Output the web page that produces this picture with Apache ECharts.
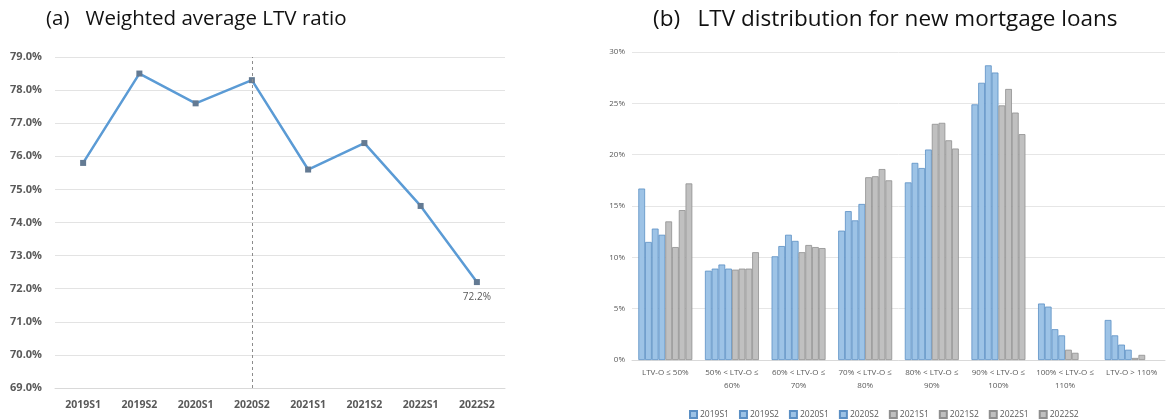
<!DOCTYPE html>
<html>
<head>
<meta charset="utf-8">
<script src="https://cdn.jsdelivr.net/npm/echarts@6/dist/echarts.min.js"></script>
<style>
  html, body { margin: 0; padding: 0; background: #ffffff; }
  #chart { width: 1169px; height: 419px; }
</style>
</head>
<body>
<div id="chart"></div>
<script>
// Panel (a): weighted average LTV ratio by half-year (%)
const periods = ['2019S1', '2019S2', '2020S1', '2020S2', '2021S1', '2021S2', '2022S1', '2022S2'];
const avgLtv = [75.8, 78.5, 77.6, 78.3, 75.6, 76.4, 74.5, 72.2];

// Panel (b): LTV distribution for new mortgage loans (% of loans per bucket)
// null = no loans reported in that bucket for the period
const ltvBuckets = [
  'LTV-O ≤ 50%',
  '50% < LTV-O ≤\n60%',
  '60% < LTV-O ≤\n70%',
  '70% < LTV-O ≤\n80%',
  '80% < LTV-O ≤\n90%',
  '90% < LTV-O ≤\n100%',
  '100% < LTV-O ≤\n110%',
  'LTV-O > 110%'
];
const dist2019S1 = [16.7, 8.7, 10.1, 12.6, 17.3, 24.9, 5.5, 3.9];
const dist2019S2 = [11.5, 8.9, 11.1, 14.5, 19.2, 27.0, 5.2, 2.4];
const dist2020S1 = [12.8, 9.3, 12.2, 13.6, 18.7, 28.7, 3.0, 1.5];
const dist2020S2 = [12.2, 8.9, 11.6, 15.2, 20.5, 28.0, 2.4, 1.0];
const dist2021S1 = [13.5, 8.8, 10.5, 17.8, 23.0, 24.8, 1.0, 0.2];
const dist2021S2 = [11.0, 8.9, 11.2, 17.9, 23.1, 26.4, 0.7, 0.5];
const dist2022S1 = [14.6, 8.9, 11.0, 18.6, 21.4, 24.1, null, null];
const dist2022S2 = [17.2, 10.5, 10.9, 17.5, 20.6, 22.0, null, null];

const distSeries = [dist2019S1, dist2019S2, dist2020S1, dist2020S2,
                    dist2021S1, dist2021S2, dist2022S1, dist2022S2];

const blueFill = '#9dc3e6', blueEdge = '#5b8fc4';
const grayFill = '#c0c0c0', grayEdge = '#8f8f8f';
const textColor = '#595959';
const baseFont = 'Open Sans, Noto Sans, sans-serif';

const chart = echarts.init(document.getElementById('chart'), null, { renderer: 'canvas' });

const barSeries = distSeries.map((vals, i) => {
  const isBlue = i < 4;
  return {
    name: periods[i],
    type: 'bar',
    xAxisIndex: 1,
    yAxisIndex: 1,
    data: vals,
    barGap: '0%',
    barCategoryGap: '19%',
    itemStyle: {
      color: isBlue ? blueFill : grayFill,
      borderColor: isBlue ? blueEdge : grayEdge,
      borderWidth: 0.8
    },
    emphasis: { disabled: true }
  };
});

chart.setOption({
  animation: false,
  textStyle: { fontFamily: baseFont },
  title: [
    {
      text: '(a)   Weighted average LTV ratio',
      left: 41, top: 4,
      textStyle: { fontSize: 20.5, fontWeight: 'normal', color: '#111', fontFamily: baseFont }
    },
    {
      text: '(b)   LTV distribution for new mortgage loans',
      left: 648, top: 3,
      textStyle: { fontSize: 22.5, fontWeight: 'normal', color: '#111', fontFamily: baseFont }
    }
  ],
  legend: {
    data: periods,
    left: 684, top: 405,
    itemWidth: 7, itemHeight: 7, itemGap: 10,
    icon: 'rect',
    textStyle: { fontSize: 8.5, color: textColor, padding: [0, 0, 0, -2] }
  },
  grid: [
    { left: 55, right: 664, top: 57, bottom: 31 },
    { left: 632, right: 4, top: 52, bottom: 59 }
  ],
  xAxis: [
    {
      type: 'category', gridIndex: 0, data: periods, boundaryGap: true,
      axisLine: { lineStyle: { color: '#d9d9d9' } },
      axisTick: { show: false },
      axisLabel: { color: textColor, fontSize: 10.5, fontWeight: 'bold', margin: 12 }
    },
    {
      type: 'category', gridIndex: 1, data: ltvBuckets, boundaryGap: true,
      axisLine: { lineStyle: { color: '#d9d9d9' } },
      axisTick: { show: false },
      axisLabel: { color: textColor, fontSize: 8, lineHeight: 13, margin: 6, interval: 0 }
    }
  ],
  yAxis: [
    {
      type: 'value', gridIndex: 0, min: 69, max: 79, interval: 1,
      axisLine: { show: false }, axisTick: { show: false },
      splitLine: { lineStyle: { color: '#e3e3e3' } },
      axisLabel: {
        color: textColor, fontSize: 11, fontWeight: 'bold', margin: 13,
        formatter: v => v.toFixed(1) + '%'
      }
    },
    {
      type: 'value', gridIndex: 1, min: 0, max: 30, interval: 5,
      axisLine: { show: false }, axisTick: { show: false },
      splitLine: { lineStyle: { color: '#e6e6e6' } },
      axisLabel: { color: textColor, fontSize: 8, margin: 7, formatter: '{value}%' }
    }
  ],
  series: [
    {
      name: 'Weighted average LTV',
      type: 'line',
      xAxisIndex: 0, yAxisIndex: 0,
      data: avgLtv.map((v, i) => i === avgLtv.length - 1
        ? { value: v, label: { show: true } }
        : v),
      symbol: 'rect', symbolSize: 6,
      lineStyle: { color: '#5b9bd5', width: 2.5 },
      itemStyle: { color: '#637a93' },
      label: {
        show: false, position: 'bottom', distance: 7,
        color: textColor, fontSize: 10,
        formatter: p => p.value.toFixed(1) + '%'
      },
      markLine: {
        silent: true, symbol: 'none',
        label: { show: false },
        lineStyle: { color: '#8c8c8c', type: [3, 3], width: 1 },
        data: [{ xAxis: '2020S2' }]
      },
      emphasis: { disabled: true }
    },
    ...barSeries
  ]
});
</script>
</body>
</html>
